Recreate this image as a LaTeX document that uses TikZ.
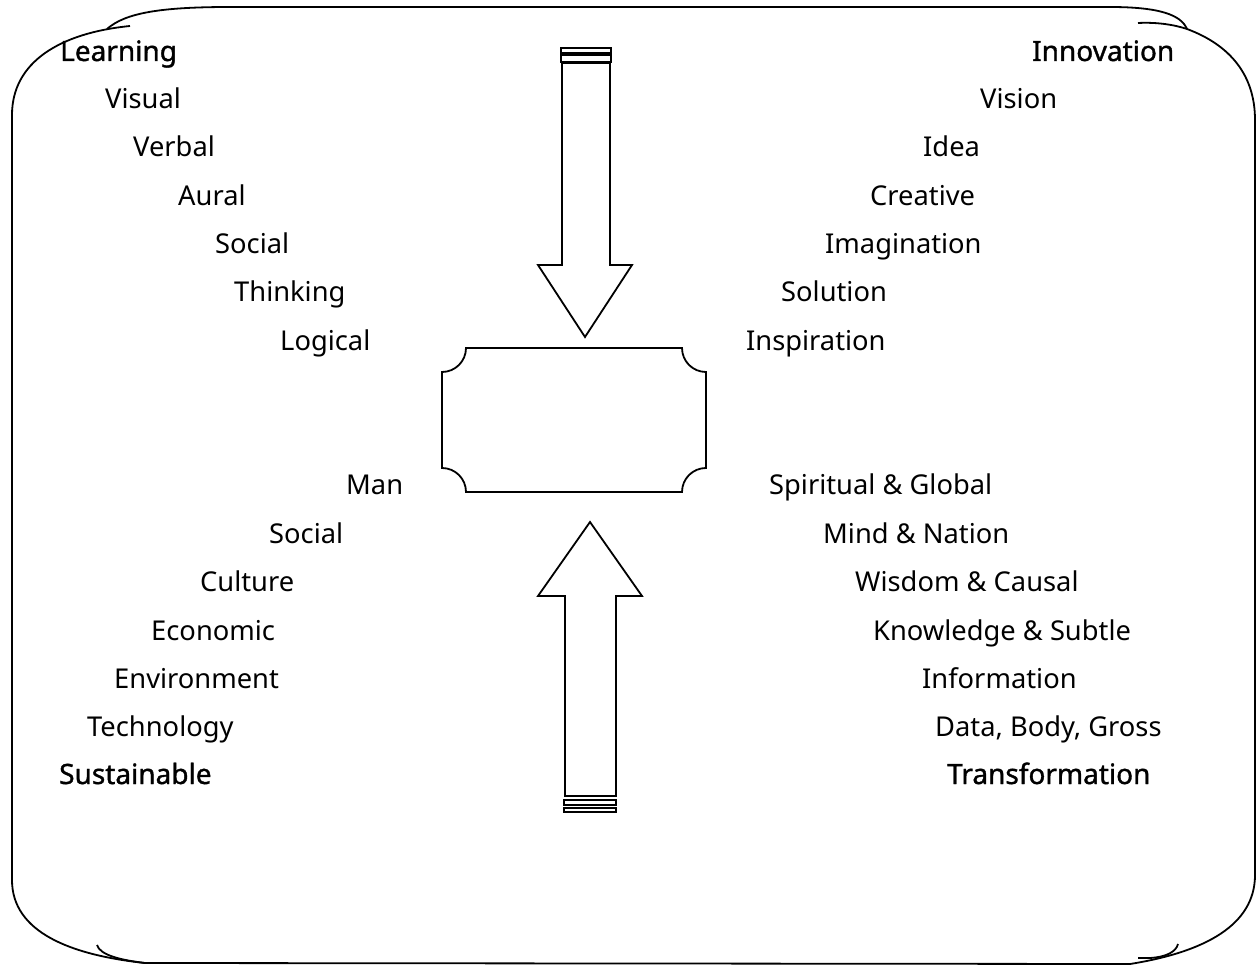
\documentclass[tikz,border=0pt]{standalone}
\usepackage{fontspec}
\setmainfont{Noto Sans}
\begin{document}
\begin{tikzpicture}[x=1pt,y=-1pt,
  line/.style={line width=1.8pt, line join=miter},
  txt/.style={anchor=base west, inner sep=0pt, font=\fontsize{27.3}{32}\selectfont},
  hdr/.style={anchor=base west, inner sep=0pt, font=\fontsize{28}{32}\selectfont\addfontfeatures{FakeBold=1.2}}]
\useasboundingbox (0,0) rectangle (1259,965);
% frame
\draw[line] (130,26) .. controls (60,33) and (12,62) .. (12,115) -- (12,880) .. controls (12,932) and (70,955) .. (145,963);
\draw[line] (107,29) .. controls (125,13) and (160,7) .. (230,7) -- (1110,7) .. controls (1160,7) and (1181,15) .. (1187,29);
\draw[line] (1138,23) .. controls (1158,22) and (1175,25) .. (1187,29) .. controls (1230,45) and (1255,75) .. (1255,120) -- (1255,875) .. controls (1255,925) and (1205,952) .. (1130,964);
\draw[line] (145,963) -- (1130,964);
\draw[line] (97,945) .. controls (100,955) and (120,960) .. (145,963);
\draw[line] (1178,944) .. controls (1176,952) and (1166,957) .. (1150,958) -- (1138,958);
% down arrow
\draw[line] (561,48) rectangle (611,53);
\draw[line] (561,55) rectangle (611,62);
\draw[line] (562,63) -- (562,265) -- (538,265) -- (585,337) -- (632,265) -- (610,265) -- (610,63) -- cycle;
% up arrow
\draw[line] (564,800) rectangle (616,805);
\draw[line] (564,808) rectangle (616,812);
\draw[line] (565,796) -- (565,596) -- (538,596) -- (590,522) -- (642,596) -- (616,596) -- (616,796) -- cycle;
% central box
\draw[line] (466,348) -- (682,348)
  .. controls (682,361.25) and (692.75,372) .. (706,372) -- (706,468)
  .. controls (692.75,468) and (682,478.75) .. (682,492) -- (466,492)
  .. controls (466,478.75) and (455.25,468) .. (442,468) -- (442,372)
  .. controls (455.25,372) and (466,361.25) .. (466,348) -- cycle;
% top-left
\node[hdr] (learn) at (60,61) {Learning};
\node[txt] (l1) at (105,109) {Visual};
\node[txt] (l2) at (133,157) {Verbal};
\node[txt] (l3) at (178,206) {Aural};
\node[txt] (l4) at (215,254) {Social};
\node[txt] (l5) at (234,302) {Thinking};
\node[txt] (l6) at (280,351) {Logical};
% top-right
\node[hdr] (innov) at (1032,61) {Innovation};
\node[txt] (r1) at (980,109) {Vision};
\node[txt] (r2) at (923,157) {Idea};
\node[txt] (r3) at (870,206) {Creative};
\node[txt] (r4) at (825,254) {Imagination};
\node[txt] (r5) at (781,302) {Solution};
\node[txt] (r6) at (746,351) {Inspiration};
% bottom-left
\node[txt] (b1) at (346,495) {Man};
\node[txt] (b2) at (269,543) {Social};
\node[txt] (b3) at (200,591) {Culture};
\node[txt] (b4) at (151,640) {Economic};
\node[txt] (b5) at (114,688) {Environment};
\node[txt] (b6) at (87,736) {Technology};
\node[hdr] (sust) at (59,784) {Sustainable};
% bottom-right
\node[txt] (c1) at (769,495) {Spiritual \& Global};
\node[txt] (c2) at (823,543) {Mind \& Nation};
\node[txt] (c3) at (855,591) {Wisdom \& Causal};
\node[txt] (c4) at (873,640) {Knowledge \& Subtle};
\node[txt] (c5) at (922,688) {Information};
\node[txt] (c6) at (935,736) {Data, Body, Gross};
\node[hdr] (trans) at (947,784) {Transformation};
\end{tikzpicture}
\end{document}
